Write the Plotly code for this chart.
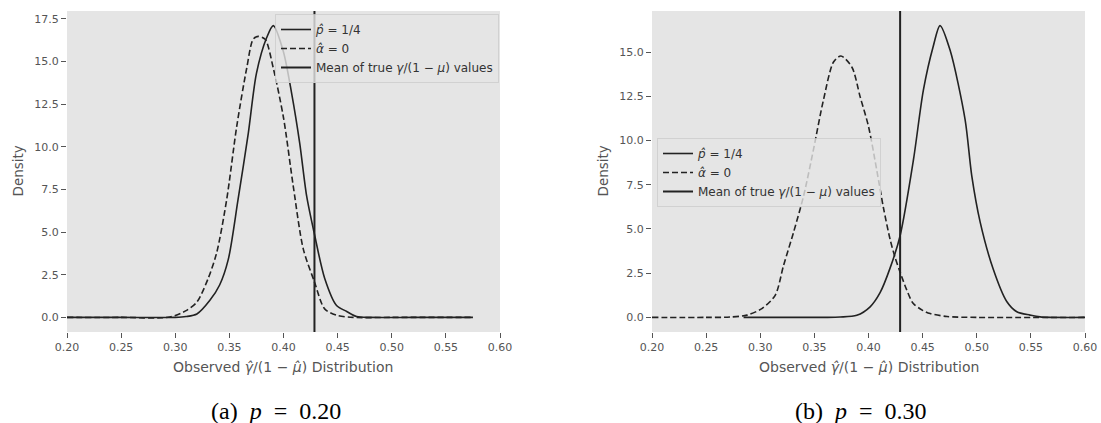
import plotly.graph_objects as go

# ---------------- data ----------------
# (a) p = 0.20
a_solid_x = [0.20, 0.25, 0.30, 0.31, 0.32, 0.332, 0.341, 0.349, 0.358, 0.3675, 0.375, 0.3845,
             0.3906, 0.3998, 0.4076, 0.415, 0.4214, 0.4285, 0.438, 0.449, 0.4584, 0.4676, 0.48, 0.52, 0.575]
a_solid_y = [0, 0, 0.0, 0.05, 0.2, 1.0, 1.9, 3.4, 6.9, 10.8, 14.3, 16.4,
             17.1, 15.6, 13.1, 10.2, 7.1, 4.9, 2.3, 0.7, 0.35, 0.05, 0, 0, 0]
a_dash_x = [0.20, 0.25, 0.295, 0.31, 0.32, 0.3305, 0.3383, 0.3475, 0.3568, 0.366, 0.372, 0.3767,
            0.383, 0.3906, 0.40, 0.409, 0.4183, 0.4285, 0.438, 0.449, 0.4645, 0.50, 0.575]
a_dash_y = [0, 0, 0.02, 0.4, 0.9, 2.3, 3.8, 6.9, 11.2, 14.6, 16.3, 16.47,
            16.3, 14.6, 11.7, 7.7, 4.0, 2.1, 0.5, 0.13, 0, 0, 0]
a_mean = 0.4286

# (b) p = 0.30
b_solid_x = [0.2846, 0.36, 0.3738, 0.3892, 0.4015, 0.4107, 0.42, 0.4292, 0.4415, 0.4507, 0.4597,
             0.4661, 0.4754, 0.4892, 0.4954, 0.5031, 0.5151, 0.5277, 0.537, 0.5492, 0.5585, 0.60]
b_solid_y = [0, 0, 0.02, 0.12, 0.6, 1.4, 2.8, 4.62, 8.9, 12.85, 15.3,
             16.5, 15.1, 11.2, 8.0, 5.4, 2.75, 0.9, 0.32, 0.13, 0.03, 0]
b_dash_x = [0.20, 0.25, 0.272, 0.2877, 0.3015, 0.3138, 0.3215, 0.3307, 0.34, 0.3492, 0.3584, 0.3677,
            0.3745, 0.3846, 0.3923, 0.40, 0.4077, 0.4138, 0.42, 0.4245, 0.4292, 0.435, 0.4412,
            0.45, 0.457, 0.4725, 0.50, 0.60]
b_dash_y = [0, 0, 0.02, 0.13, 0.5, 1.25, 2.93, 4.8, 6.86, 9.5, 12.3, 14.44,
            14.78, 14.16, 12.47, 10.8, 8.3, 6.2, 4.4, 3.4, 2.56, 1.6, 0.8,
            0.4, 0.22, 0.05, 0, 0]
b_mean = 0.4292

legend_labels = ["<i>p̂</i> = 1/4", "<i>α̂</i> = 0", "Mean of true <i>γ</i>/(1 − <i>μ</i>) values"]
captions = ["(a)&nbsp;&nbsp;<i>p</i>&nbsp;&nbsp;=&nbsp;&nbsp;0.20", "(b)&nbsp;&nbsp;<i>p</i>&nbsp;&nbsp;=&nbsp;&nbsp;0.30"]
x_ticks = [0.20, 0.25, 0.30, 0.35, 0.40, 0.45, 0.50, 0.55, 0.60]

# ---------------- style ----------------
LINE = "#222222"
BG = "#E5E5E5"
GRAY = "#555555"
W, H = 1101, 423

def yrange(*ys):
    m = max(max(y) for y in ys)
    return [-0.05 * m, 1.05 * m]

fig = go.Figure()

panels = [
    (a_solid_x, a_solid_y, a_dash_x, a_dash_y, a_mean, "x", "y", "legend"),
    (b_solid_x, b_solid_y, b_dash_x, b_dash_y, b_mean, "x2", "y2", "legend2"),
]
ranges = []
for sx, sy, dx, dy, mean, xa, ya, lg in panels:
    yr = yrange(sy, dy)
    ranges.append(yr)
    fig.add_trace(go.Scatter(x=sx, y=sy, mode="lines", name=legend_labels[0],
                             line=dict(color=LINE, width=1.6, shape="spline", smoothing=0.8),
                             xaxis=xa, yaxis=ya, legend=lg))
    fig.add_trace(go.Scatter(x=dx, y=dy, mode="lines", name=legend_labels[1],
                             line=dict(color=LINE, width=1.6, dash="6px,3px", shape="spline", smoothing=0.8),
                             xaxis=xa, yaxis=ya, legend=lg))
    fig.add_trace(go.Scatter(x=[mean, mean], y=yr, mode="lines", name=legend_labels[2],
                             line=dict(color=LINE, width=2),
                             xaxis=xa, yaxis=ya, legend=lg))

doms_x = [[67 / W, 500 / W], [652 / W, 1085 / W]]
dom_y = [1 - 332 / H, 1 - 11 / H]

axis_common = dict(showgrid=False, zeroline=False, showline=False, ticks="outside",
                   ticklen=5, tickwidth=1, tickcolor=GRAY,
                   tickfont=dict(family="DejaVu Sans", size=11, color=GRAY), automargin=False)

legend_common = dict(bgcolor="rgba(229,229,229,0.8)", bordercolor="rgba(204,204,204,0.8)", borderwidth=1,
                     font=dict(family="DejaVu Sans", size=12, color="#333333"),
                     tracegroupgap=0, itemwidth=30)

fig.update_layout(
    width=W, height=H,
    margin=dict(l=0, r=0, t=0, b=0),
    paper_bgcolor="white",
    plot_bgcolor=BG,
    showlegend=True,
    xaxis=dict(domain=doms_x[0], range=[0.2, 0.6], tickvals=x_ticks, tickformat=".2f", anchor="y", **axis_common),
    yaxis=dict(domain=dom_y, range=ranges[0], dtick=2.5, tick0=0, tickformat=".1f", anchor="x", **axis_common),
    xaxis2=dict(domain=doms_x[1], range=[0.2, 0.6], tickvals=x_ticks, tickformat=".2f", anchor="y2", **axis_common),
    yaxis2=dict(domain=dom_y, range=ranges[1], dtick=2.5, tick0=0, tickformat=".1f", anchor="x2", **axis_common),
    legend=dict(x=275 / W, y=1 - 14 / H, xanchor="left", yanchor="top", **legend_common),
    legend2=dict(x=657 / W, y=1 - 138 / H, xanchor="left", yanchor="top", **legend_common),
)

xtitle = "Observed <i>γ̂</i>/(1 − <i>μ̂</i>) Distribution"
cap_x = [275.5, 860.5]
for i, dx in enumerate(doms_x):
    cx = (dx[0] + dx[1]) / 2
    fig.add_annotation(text=xtitle, x=cx, y=1 - 367 / H, xref="paper", yref="paper",
                       showarrow=False, xanchor="center", yanchor="middle",
                       font=dict(family="DejaVu Sans", size=14, color=GRAY))
    fig.add_annotation(text="Density", x=(dx[0] * W - 50) / W, y=(dom_y[0] + dom_y[1]) / 2,
                       xref="paper", yref="paper", showarrow=False, textangle=-90,
                       xanchor="center", yanchor="middle",
                       font=dict(family="DejaVu Sans", size=13.5, color=GRAY))
    fig.add_annotation(text=captions[i], x=cap_x[i] / W, y=1 - 411 / H, xref="paper", yref="paper",
                       showarrow=False, xanchor="center", yanchor="middle",
                       font=dict(family="Liberation Serif", size=24, color="black"))

fig.write_html("out.html", config={"displayModeBar": False},
               post_script="document.body.style.margin='0px';")
